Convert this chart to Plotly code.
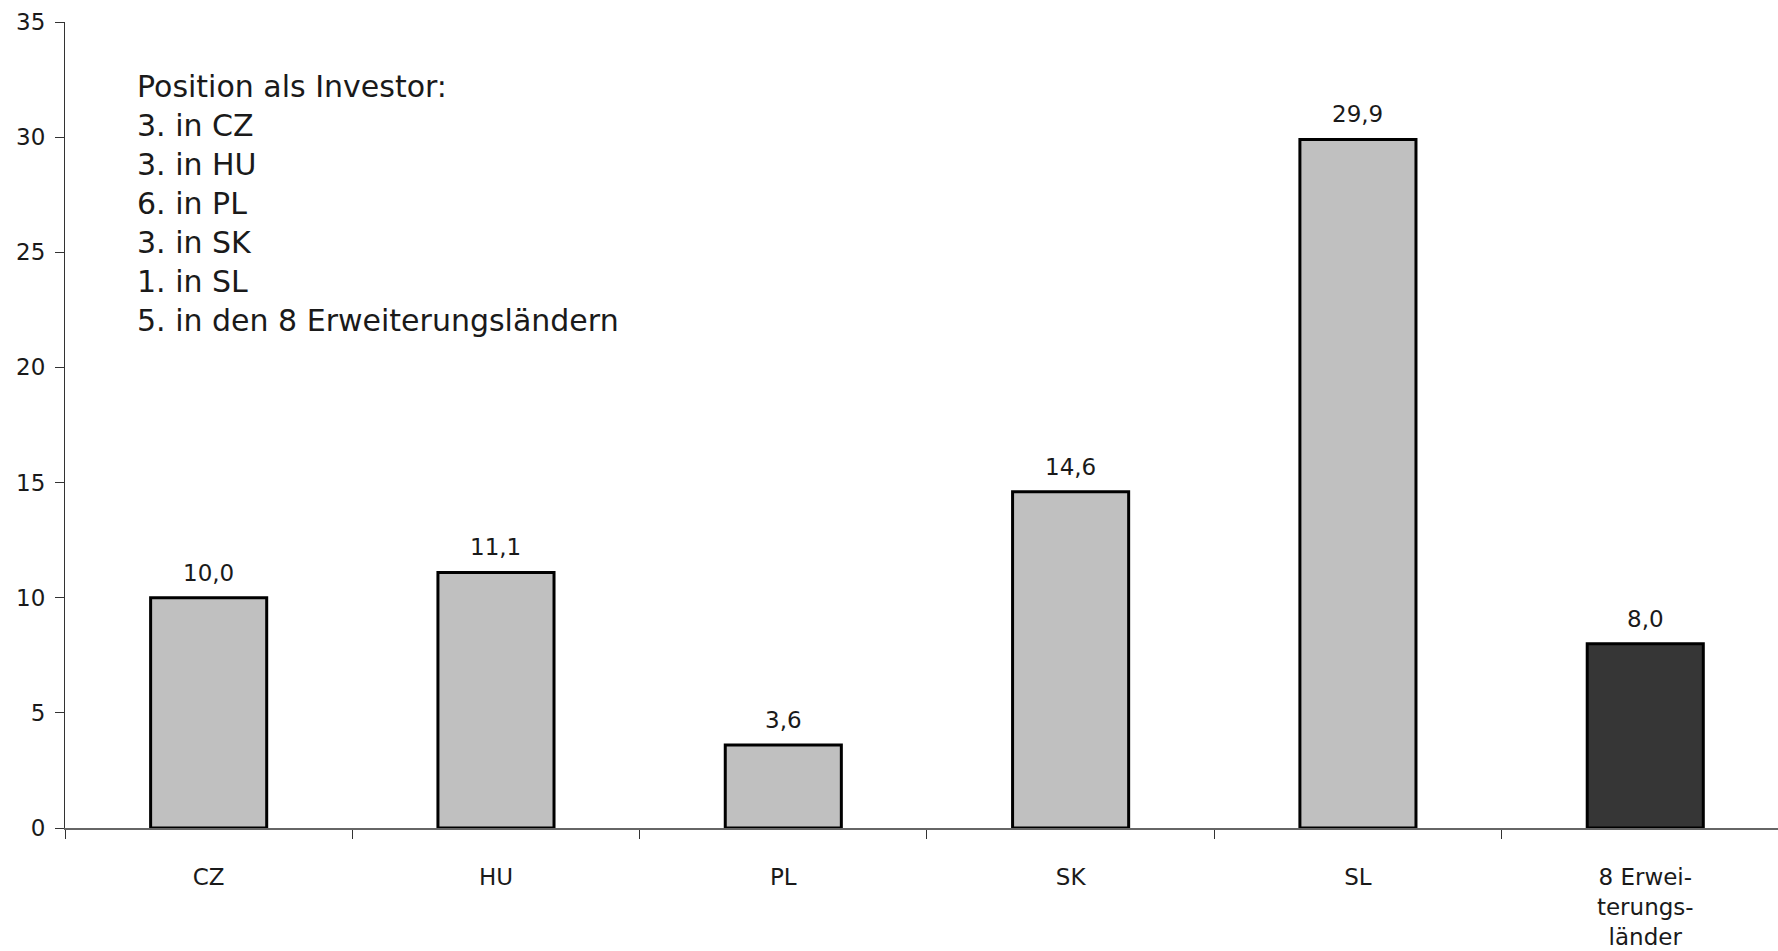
import plotly.graph_objects as go

categories = ["CZ", "HU", "PL", "SK", "SL", "8 Erweiterungsländer"]
tick_labels = ["CZ", "HU", "PL", "SK", "SL", "8 Erwei-<br>terungs-<br>länder"]
values = [10.0, 11.1, 3.6, 14.6, 29.9, 8.0]
bar_colors = ["#c0c0c0", "#c0c0c0", "#c0c0c0", "#c0c0c0", "#c0c0c0", "#363636"]
y_ticks = [0, 5, 10, 15, 20, 25, 30, 35]
note_lines = [
    "Position als Investor:",
    "3. in CZ",
    "3. in HU",
    "6. in PL",
    "3. in SK",
    "1. in SL",
    "5. in den 8 Erweiterungsländern",
]

FONT = "DejaVu Sans"
TXT = "#1a1a1a"

fig = go.Figure()
fig.add_trace(go.Bar(
    x=categories,
    y=values,
    width=0.404,
    marker=dict(color=bar_colors, line=dict(color="#000000", width=3)),
    hoverinfo="x+y",
))

for c, v in zip(categories, values):
    fig.add_annotation(
        x=c, y=v, xref="x", yref="y",
        text=f"{v:.1f}".replace(".", ","),
        showarrow=False, yanchor="bottom", yshift=10,
        font=dict(family=FONT, size=23, color=TXT),
    )

fig.add_annotation(
    x=0.041, y=0.944, xref="paper", yref="paper",
    xanchor="left", yanchor="top", align="left",
    text="<br>".join(note_lines),
    showarrow=False,
    font=dict(family=FONT, size=30, color=TXT),
)

fig.update_layout(
    width=1778, height=951,
    margin=dict(l=65, r=0, t=22, b=123),
    plot_bgcolor="white", paper_bgcolor="white",
    showlegend=False,
    font=dict(family=FONT, size=23, color=TXT),
    bargap=0.6,
)
fig.update_xaxes(
    type="category",
    tickmode="array", tickvals=categories, ticktext=tick_labels,
    range=[-0.5, 5.462],
    showline=True, linecolor="#666666", linewidth=1.5,
    ticks="outside", tickson="boundaries", ticklen=9, tickcolor="#333333",
    ticklabelstandoff=28,
    showgrid=False, zeroline=False,
    tickfont=dict(family=FONT, size=23, color=TXT),
)
fig.update_yaxes(
    range=[0, 35],
    tickmode="array", tickvals=y_ticks,
    showline=True, linecolor="#333333", linewidth=1.2,
    ticks="outside", ticklen=9, tickcolor="#333333",
    ticklabelstandoff=5,
    showgrid=False, zeroline=False,
    tickfont=dict(family=FONT, size=23, color=TXT),
)

fig.write_html(
    "out.html",
    config={"displayModeBar": False},
    post_script="document.body.style.margin='0';document.body.style.overflow='hidden';",
)
